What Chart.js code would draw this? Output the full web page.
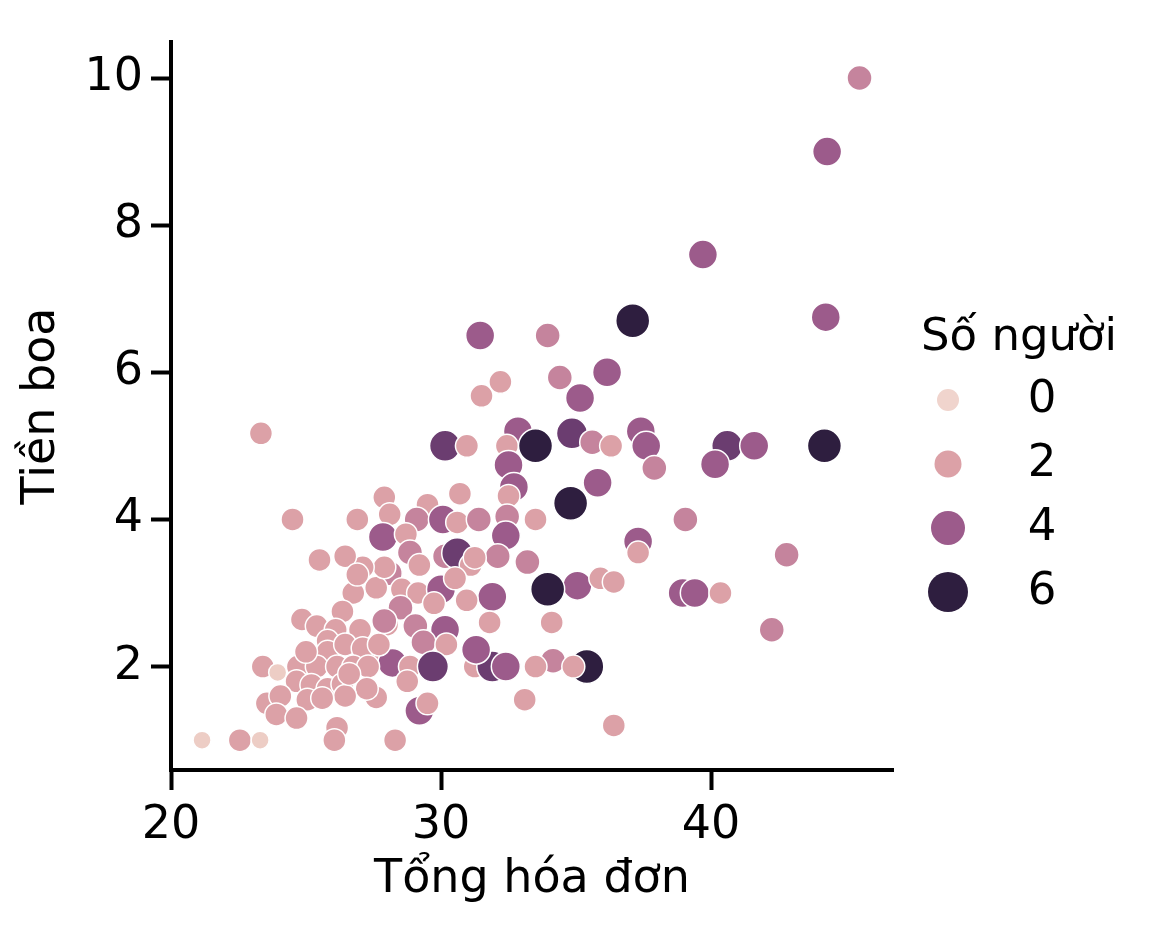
<!DOCTYPE html>
<html lang="vi">
<head>
<meta charset="utf-8">
<title>Tiền boa theo tổng hóa đơn</title>
<script src="https://cdn.jsdelivr.net/npm/chart.js@4.4.1/dist/chart.umd.min.js"></script>
<style>
  html, body { margin: 0; padding: 0; background: #fff; }
  #wrap { width: 1152px; height: 928px; }
</style>
</head>
<body>
<div id="wrap"><canvas id="chart" width="1152" height="928"></canvas></div>
<script>
// values
const totalBill = [
  45.5, 44.3, 39.7, 37.1, 44.25, 31.45, 33.95, 36.15, 34.4, 32.2,
  31.5, 35.15, 23.33, 30.15, 30.96, 32.85, 32.44, 33.5, 34.85, 35.6,
  36.3, 37.4, 37.6, 40.6, 41.6, 40.15, 44.2, 32.5, 37.9, 35.8,
  32.7, 32.5, 34.8, 39.05, 37.3, 37.3, 42.8, 35.05, 35.9, 36.4,
  38.95, 39.4, 40.35, 42.25, 36.4, 33.1, 33.95, 34.1, 34.15, 35.4,
  34.9, 33.5, 30.7, 29.5, 27.9, 28.1, 29.1, 30.07, 30.6, 31.4,
  32.45, 33.5, 27.85, 28.7, 32.4, 28.85, 30.15, 30.6, 31.1, 32.1,
  33.2, 28.1, 27.6, 28.55, 29.15, 30.0, 31.9, 30.95, 28.5, 28.0,
  29.05, 30.15, 31.8, 29.35, 30.2, 27.55, 28.2, 28.85, 29.7, 31.25,
  31.9, 32.4, 31.3, 28.75, 27.6, 29.2, 29.5, 28.3, 31.25, 27.9,
  27.1, 24.5, 26.9, 25.5, 26.45, 26.75, 26.35, 24.85, 25.4, 26.1,
  27.0, 26.9, 25.8, 25.8, 26.45, 27.1, 23.4, 23.95, 24.7, 25.4,
  26.15, 26.75, 27.3, 24.65, 25.2, 25.8, 26.35, 27.25, 26.45, 23.55,
  24.05, 25.05, 25.6, 23.9, 24.65, 26.15, 26.05, 21.15, 22.55, 23.3,
  29.74, 30.52, 29.2, 27.7, 26.6, 25.0, 27.9
];
const tipAmount = [
  10.0, 9.0, 7.6, 6.7, 6.75, 6.5, 6.5, 6.0, 5.93, 5.87,
  5.68, 5.65, 5.17, 5.0, 5.0, 5.2, 5.0, 5.0, 5.17, 5.05,
  5.0, 5.2, 5.0, 5.0, 5.0, 4.75, 5.0, 4.74, 4.7, 4.5,
  4.44, 4.32, 4.22, 4.0, 3.7, 3.55, 3.52, 3.1, 3.2, 3.15,
  3.0, 3.0, 3.0, 2.5, 1.2, 1.55, 3.05, 2.6, 2.08, 2.0,
  2.0, 2.0, 4.35, 4.2, 4.3, 4.07, 4.0, 4.0, 3.96, 4.0,
  4.04, 4.0, 3.76, 3.8, 3.78, 3.55, 3.5, 3.54, 3.38, 3.5,
  3.42, 3.27, 3.07, 3.05, 3.0, 3.05, 2.95, 2.9, 2.8, 2.57,
  2.55, 2.5, 2.6, 2.33, 2.3, 2.08, 2.05, 2.0, 2.0, 2.0,
  2.0, 2.0, 2.23, 1.8, 1.58, 1.4, 1.5, 1.0, 3.48, 3.35,
  3.35, 4.0, 4.0, 3.45, 3.5, 3.0, 2.75, 2.64, 2.55, 2.5,
  2.5, 3.25, 2.35, 2.2, 2.3, 2.25, 2.0, 1.92, 2.0, 2.0,
  2.0, 2.0, 2.0, 1.8, 1.75, 1.7, 1.76, 1.7, 1.6, 1.5,
  1.6, 1.55, 1.57, 1.35, 1.3, 1.17, 1.0, 1.0, 1.0, 1.0,
  2.86, 3.2, 3.38, 2.3, 1.9, 2.2, 2.62
];
const partySize = [
  3, 4, 4, 6, 4, 4, 3, 4, 3, 2,
  2, 4, 2, 5, 2, 4, 2, 6, 5, 3,
  2, 4, 4, 5, 4, 4, 6, 4, 3, 4,
  4, 2, 6, 3, 4, 2, 3, 4, 2, 2,
  4, 4, 2, 3, 2, 2, 6, 2, 3, 6,
  2, 2, 2, 2, 2, 2, 3, 4, 2, 3,
  3, 2, 4, 2, 4, 3, 3, 5, 2, 3,
  3, 3, 2, 2, 2, 4, 4, 2, 3, 2,
  3, 4, 2, 3, 2, 2, 4, 2, 5, 2,
  5, 4, 4, 2, 2, 4, 2, 2, 2, 2,
  2, 2, 2, 2, 2, 2, 2, 2, 2, 2,
  2, 2, 2, 2, 2, 2, 2, 1, 2, 2,
  2, 2, 2, 2, 2, 2, 2, 2, 2, 2,
  2, 2, 2, 2, 2, 2, 2, 1, 2, 1,
  2, 2, 2, 2, 2, 2, 3
];
const xTicks = [20, 30, 40];
const yTicks = [2, 4, 6, 8, 10];
const legendLevels = [0, 2, 4, 6];
const legendTitle = 'Số người';

// styles
const sizeColors = {
  0: '#f0d4cd', 1: '#edcdc5', 2: '#dca1a7', 3: '#c5849d',
  4: '#9c5b8b', 5: '#6b3d70', 6: '#2e1e3f'
};
const sizeRadius = { 1: 9, 2: 11.5, 3: 12.5, 4: 14.5, 5: 15.5, 6: 17 };
const legendRadius = { 0: 11, 2: 13.5, 4: 17, 6: 20 };
const FONT = '"DejaVu Sans", sans-serif';

// draws the hue/size legend to the right of the plot
const sizeLegend = {
  id: 'sizeLegend',
  afterDraw(chart) {
    const ctx = chart.ctx;
    ctx.save();
    ctx.font = '45px ' + FONT;
    ctx.fillStyle = '#000';
    ctx.textBaseline = 'middle';
    ctx.textAlign = 'left';
    ctx.fillText(legendTitle, 921, 338);
    legendLevels.forEach((lv, i) => {
      const y = 400 + i * 64;
      ctx.beginPath();
      ctx.arc(948, y, legendRadius[lv], 0, Math.PI * 2);
      ctx.fillStyle = sizeColors[lv];
      ctx.fill();
      ctx.fillStyle = '#000';
      ctx.textAlign = 'center';
      ctx.fillText(String(lv), 1042, y);
    });
    ctx.restore();
  }
};

const axisBorder = { display: true, color: '#000', width: 4 };
const axisGrid = { display: true, drawOnChartArea: false, drawTicks: true, tickLength: 20, tickWidth: 4, tickColor: '#000' };

const ctx = document.getElementById('chart').getContext('2d');
new Chart(ctx, {
  type: 'scatter',
  data: {
    datasets: [{
      label: 'Tiền boa',
      data: totalBill.map((x, i) => ({ x: x, y: tipAmount[i] })),
      backgroundColor: partySize.map(s => sizeColors[s]),
      pointRadius: partySize.map(s => sizeRadius[s]),
      pointHoverRadius: partySize.map(s => sizeRadius[s]),
      borderColor: '#ffffff',
      borderWidth: 1.5
    }]
  },
  options: {
    responsive: false,
    animation: false,
    layout: { padding: { top: 42, right: 259, left: 0, bottom: 0 } },
    plugins: {
      legend: { display: false },
      tooltip: { enabled: false }
    },
    scales: {
      x: {
        type: 'linear',
        min: 20,
        max: 46.74,
        afterBuildTicks: s => { s.ticks = xTicks.map(v => ({ value: v })); },
        afterFit: s => { s.height = 158; },
        border: axisBorder,
        grid: axisGrid,
        ticks: { color: '#000', font: { family: FONT, size: 46 }, padding: 8 },
        title: {
          display: true, text: 'Tổng hóa đơn', color: '#000',
          font: { family: FONT, size: 46 }, padding: { top: 0, bottom: 20 }
        }
      },
      y: {
        type: 'linear',
        min: 0.594,
        max: 10.49,
        afterBuildTicks: s => { s.ticks = yTicks.map(v => ({ value: v })); },
        afterFit: s => { s.width = 171; },
        border: axisBorder,
        grid: axisGrid,
        ticks: { color: '#000', font: { family: FONT, size: 46 }, padding: 8 },
        title: {
          display: true, text: 'Tiền boa', color: '#000',
          font: { family: FONT, size: 46 }, padding: { top: 14, bottom: 0 }
        }
      }
    }
  },
  plugins: [sizeLegend]
});
</script>
</body>
</html>
